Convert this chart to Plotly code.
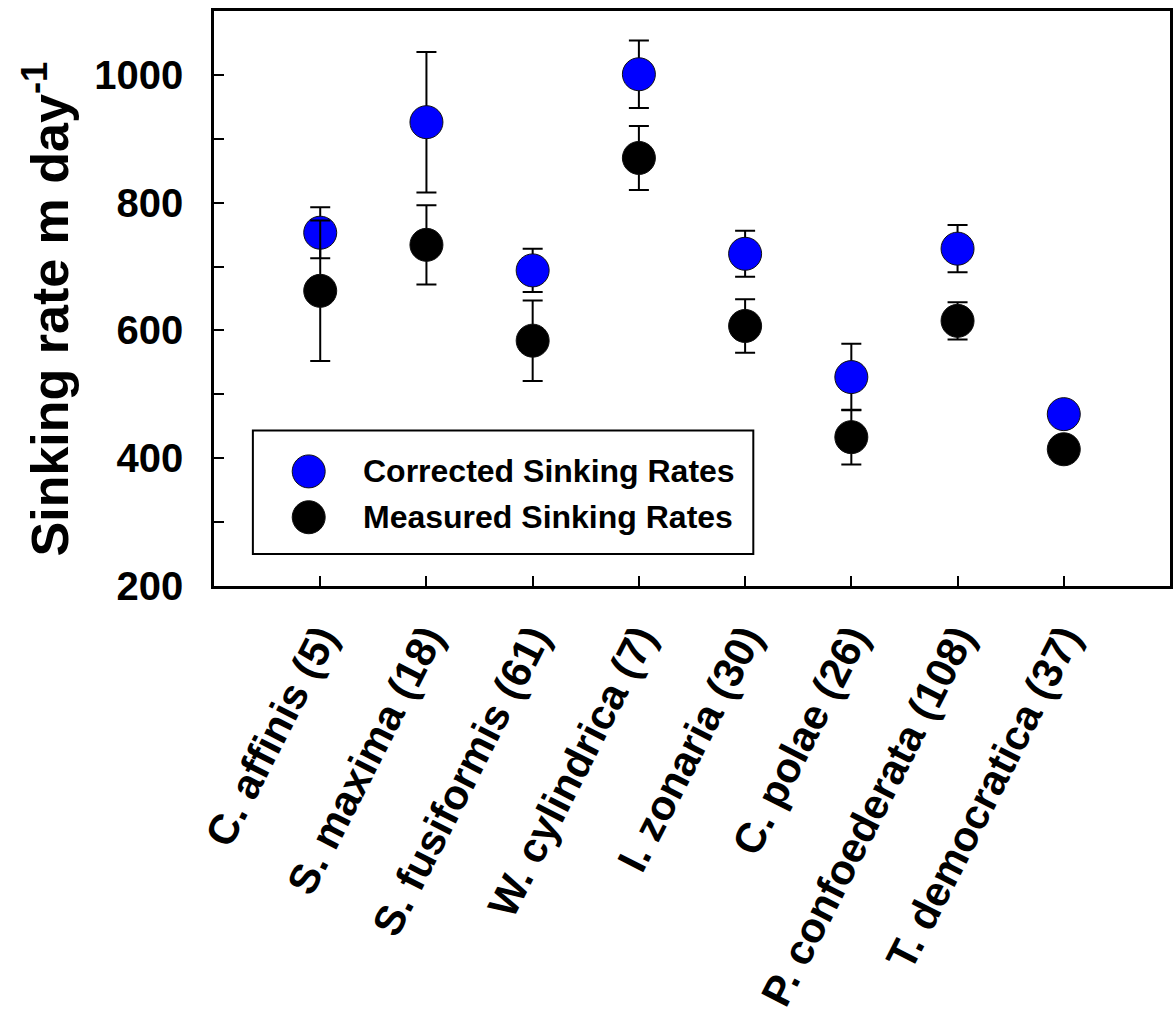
import plotly.graph_objects as go

# Species (sample size in parentheses)
species = [
    "C. affinis (5)",
    "S. maxima (18)",
    "S. fusiformis (61)",
    "W. cylindrica (7)",
    "I. zonaria (30)",
    "C. polae (26)",
    "P. confoederata (108)",
    "T. democratica (37)",
]

# Sinking rates (m day-1) and their error ranges
corrected = [753, 926, 694, 1001, 720, 527, 728, 469]
corrected_err = [40, 110, 34, 53, 36, 52, 37, 0]
measured = [662, 734, 584, 870, 607, 433, 615, 414]
measured_err = [110, 62, 63, 50, 42, 43, 29, 0]

series_names = ["Corrected Sinking Rates", "Measured Sinking Rates"]
series_colors = ["#0000FF", "#000000"]

y_ticks = [200, 400, 600, 800, 1000]
y_title = "Sinking rate m day<sup>-1</sup>"

W, H = 1175, 1015
ML, MR, MT, MB = 214, 2, 11, 427
FONT = "Arial, Liberation Sans, sans-serif"


def px_x(x):
    return (x - ML) / (W - ML - MR)


def px_y(y):
    return (H - MB - y) / (H - MT - MB)


fig = go.Figure()
for name, color, vals, errs in [
    (series_names[0], series_colors[0], corrected, corrected_err),
    (series_names[1], series_colors[1], measured, measured_err),
]:
    fig.add_trace(go.Scatter(
        x=species, y=vals, mode="markers", name=name, showlegend=False,
        marker=dict(size=33, color=color, line=dict(color="#101010", width=1)),
        error_y=dict(type="data", array=errs, visible=True,
                     color="black", thickness=2, width=10),
    ))

# Legend drawn as a framed box with large circular symbols
box = dict(x0=253, x1=755, y0=432, y1=556)
fig.add_shape(type="rect", xref="paper", yref="paper",
              x0=px_x(box["x0"]), x1=px_x(box["x1"]),
              y0=px_y(box["y1"]), y1=px_y(box["y0"]),
              line=dict(color="black", width=2), fillcolor="white")
for i, (name, color) in enumerate(zip(series_names, series_colors)):
    cy = 473 + i * 46
    fig.add_shape(type="circle", xref="paper", yref="paper",
                  xsizemode="pixel", ysizemode="pixel",
                  xanchor=px_x(309), yanchor=px_y(cy),
                  x0=-16.5, x1=16.5, y0=-16.5, y1=16.5,
                  fillcolor=color, line=dict(color="#101010", width=1))
    fig.add_annotation(xref="paper", yref="paper", x=px_x(361), y=px_y(cy),
                       xanchor="left", yanchor="middle", showarrow=False,
                       text=name,
                       font=dict(family=FONT, size=32, color="black", weight="bold"))

# Vertical axis title
fig.add_annotation(xref="paper", yref="paper", x=px_x(46), y=px_y(310),
                   xanchor="center", yanchor="middle", showarrow=False,
                   textangle=-90, text=y_title,
                   font=dict(family=FONT, size=52, color="black", weight="bold"))

fig.update_layout(
    width=W, height=H,
    margin=dict(l=ML, r=MR, t=MT, b=MB),
    paper_bgcolor="white", plot_bgcolor="white",
    showlegend=False,
    font=dict(family=FONT, color="black"),
)

fig.update_xaxes(
    type="category", range=[-1, len(species)],
    showline=True, linecolor="black", linewidth=2.5, mirror=True,
    ticks="inside", ticklen=10, tickwidth=2, tickcolor="black",
    tickangle=-63, ticklabelstandoff=8,
    tickfont=dict(family=FONT, size=42, color="black", weight="bold"),
    showgrid=False, zeroline=False,
)
fig.update_yaxes(
    range=[200, 1100], tickvals=y_ticks,
    showline=True, linecolor="black", linewidth=2.5, mirror=True,
    ticks="inside", ticklen=10, tickwidth=2, tickcolor="black",
    minor=dict(dtick=100, tick0=200, ticks="inside", ticklen=10, tickwidth=2, tickcolor="black"),
    ticklabelstandoff=20,
    tickfont=dict(family=FONT, size=40, color="black", weight="bold"),
    showgrid=False, zeroline=False,
)

fig.write_html("out.html")
